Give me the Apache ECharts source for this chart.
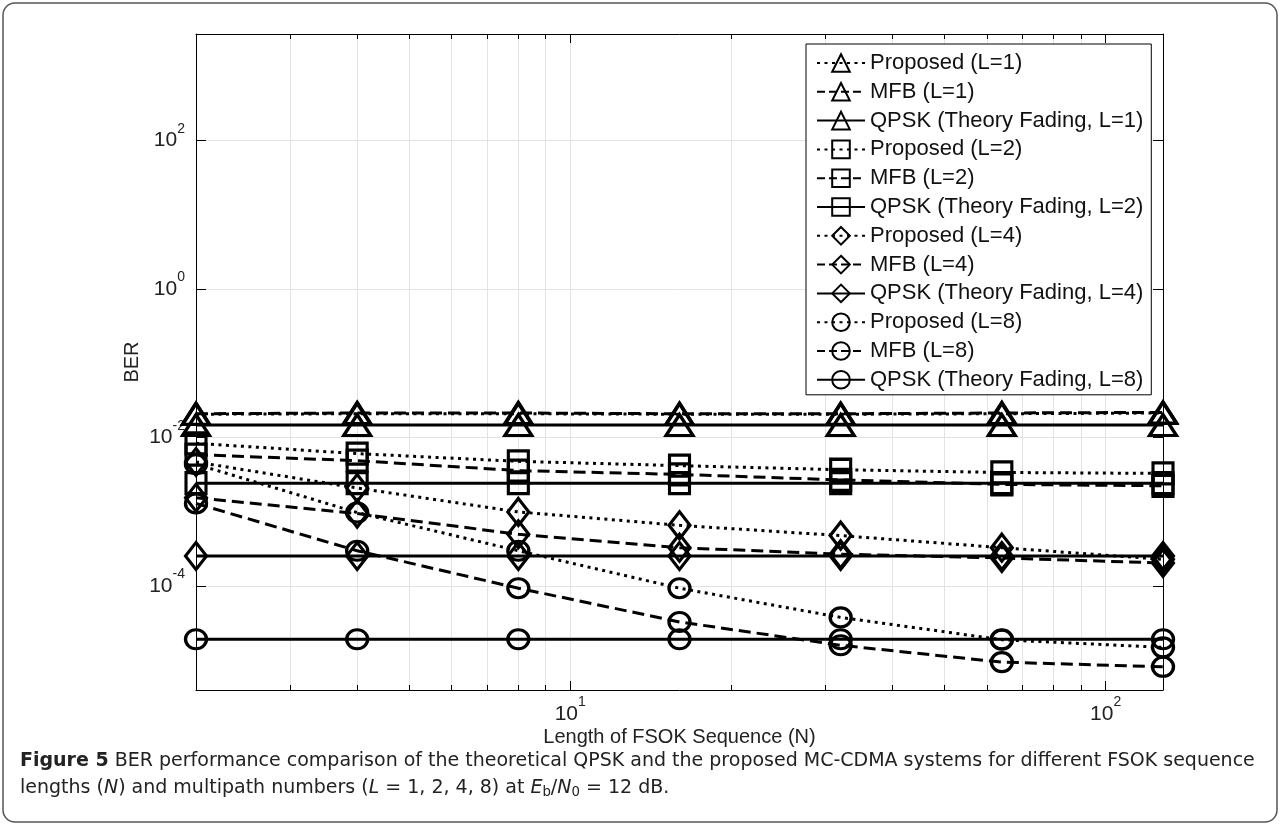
<!DOCTYPE html>
<html><head><meta charset="utf-8">
<script src="https://cdn.jsdelivr.net/npm/echarts@6/dist/echarts.min.js"></script>
<style>html,body{margin:0;padding:0;background:#fff}#c{width:1281px;height:827px}</style>
</head><body><div id="c"></div>
<script>
// ---- data ----
const N = [2, 4, 8, 16, 32, 64, 128];
const proposedL1 = [0.0207, 0.021, 0.021, 0.0207, 0.0207, 0.021, 0.0215];
const mfbL1      = [0.021, 0.0215, 0.0215, 0.021, 0.021, 0.0215, 0.0219];
const qpskL1     = [0.0148, 0.0148, 0.0148, 0.0148, 0.0148, 0.0148, 0.0148];
const proposedL2 = [8.4e-3, 6.1e-3, 4.8e-3, 4.2e-3, 3.7e-3, 3.4e-3, 3.3e-3];
const mfbL2      = [5.9e-3, 4.9e-3, 3.6e-3, 3.2e-3, 2.7e-3, 2.35e-3, 2.25e-3];
const qpskL2     = [2.44e-3, 2.44e-3, 2.44e-3, 2.44e-3, 2.44e-3, 2.44e-3, 2.44e-3];
const proposedL4 = [4.7e-3, 2.1e-3, 1.0e-3, 6.6e-4, 4.8e-4, 3.3e-4, 2.3e-4];
const mfbL4      = [1.55e-3, 9.5e-4, 5.0e-4, 3.3e-4, 2.7e-4, 2.4e-4, 2.05e-4];
const qpskL4     = [2.55e-4, 2.55e-4, 2.55e-4, 2.55e-4, 2.55e-4, 2.55e-4, 2.55e-4];
const proposedL8 = [4.4e-3, 9.8e-4, 3.0e-4, 9.4e-5, 3.8e-5, 1.9e-5, 1.5e-5];
const mfbL8      = [1.3e-3, 3.0e-4, 9.4e-5, 3.3e-5, 1.6e-5, 9.5e-6, 8.2e-6];
const qpskL8     = [1.93e-5, 1.93e-5, 1.93e-5, 1.93e-5, 1.93e-5, 1.93e-5, 1.93e-5];
const seriesNames = [
  'Proposed (L=1)', 'MFB (L=1)', 'QPSK (Theory Fading, L=1)',
  'Proposed (L=2)', 'MFB (L=2)', 'QPSK (Theory Fading, L=2)',
  'Proposed (L=4)', 'MFB (L=4)', 'QPSK (Theory Fading, L=4)',
  'Proposed (L=8)', 'MFB (L=8)', 'QPSK (Theory Fading, L=8)'
];
const seriesData = [proposedL1, mfbL1, qpskL1, proposedL2, mfbL2, qpskL2,
                    proposedL4, mfbL4, qpskL4, proposedL8, mfbL8, qpskL8];
const xMin = 2, xMax = 128;
const yMin = 4.0e-6, yMax = 2730;
const xAxisTitle = 'Length of FSOK Sequence (N)';
const yAxisTitle = 'BER';

// ---- styles ----
const FONT = 'Liberation Sans, Arial, sans-serif';
const CAPFONT = 'DejaVu Sans, Open Sans, sans-serif';
const CAPSIZE = 19;
const lineTypes = [[3, 4.5], 'dashed', 'solid'];
const symbols = ['triangle', 'rect', 'diamond', 'circle'];
const symbolSizes = [[27, 21], [20, 21], [21, 27], [21, 19]];

function powLabel(v) {
  const e = Math.log10(v);
  const r = Math.round(e);
  if (Math.abs(e - r) > 1e-6) return '';
  return '{b|10}{s|' + r + '}';
}
const labelRich = {
  b: { fontSize: 21, fontFamily: FONT, color: '#222' },
  s: { fontSize: 14, fontFamily: FONT, color: '#222', padding: [0, 0, 24, 0] }
};
const axLine = { show: true, onZero: false, lineStyle: { color: '#000', width: 1 } };
const tickStyle = { color: '#000', width: 1 };
const gridColor = '#e3e3e3';

const series = seriesNames.map((name, i) => ({
  name: name,
  type: 'line',
  data: N.map((n, k) => [n, seriesData[i][k]]),
  symbol: symbols[Math.floor(i / 3)],
  symbolSize: symbolSizes[Math.floor(i / 3)],
  showAllSymbol: true,
  lineStyle: { color: '#000', width: 3, type: lineTypes[i % 3] },
  itemStyle: { color: 'rgba(0,0,0,0)', borderColor: '#000', borderWidth: 3.2 },
  emphasis: { disabled: true },
  z: 3
}));

const capRich = {
  b: { fontSize: CAPSIZE, fontFamily: CAPFONT, fontWeight: 'bold', fill: '#222' },
  n: { fontSize: CAPSIZE, fontFamily: CAPFONT, fill: '#222' },
  i: { fontSize: CAPSIZE, fontFamily: CAPFONT, fontStyle: 'italic', fill: '#222' },
  sub: { fontSize: CAPSIZE * 0.7, fontFamily: CAPFONT, fill: '#222', padding: [8, 0, 0, 0] }
};

const option = {
  animation: false,
  backgroundColor: '#fff',
  grid: { left: 196, right: 118, top: 34, bottom: 137, containLabel: false },
  xAxis: [{
    type: 'log', logBase: 10, min: xMin, max: xMax, position: 'bottom',
    axisLine: axLine,
    axisTick: { show: true, inside: true, length: 9, lineStyle: tickStyle },
    minorTick: { show: true, splitNumber: 9, length: 5, lineStyle: tickStyle },
    splitLine: { show: true, lineStyle: { color: gridColor, width: 1 } },
    minorSplitLine: { show: true, lineStyle: { color: gridColor, width: 1 } },
    axisLabel: { formatter: powLabel, rich: labelRich, margin: 5, showMinLabel: false, showMaxLabel: false },
    name: xAxisTitle, nameLocation: 'middle', nameGap: 37, nameMoveOverlap: false,
    nameTextStyle: { fontSize: 20, color: '#222', fontFamily: FONT }
  }, {
    type: 'log', logBase: 10, min: xMin, max: xMax, position: 'top',
    axisLine: axLine,
    axisTick: { show: true, inside: true, length: 9, lineStyle: tickStyle },
    minorTick: { show: true, splitNumber: 9, length: 5, lineStyle: tickStyle },
    splitLine: { show: false }, minorSplitLine: { show: false },
    axisLabel: { show: false }
  }],
  yAxis: [{
    type: 'log', logBase: 100, min: yMin, max: yMax, position: 'left',
    axisLine: axLine,
    axisTick: { show: true, inside: true, length: 10, lineStyle: tickStyle },
    splitLine: { show: true, lineStyle: { color: gridColor, width: 1 } },
    axisLabel: { formatter: powLabel, rich: labelRich, margin: 11, showMinLabel: false, showMaxLabel: false },
    name: yAxisTitle, nameLocation: 'middle', nameGap: 54, nameMoveOverlap: false,
    nameTextStyle: { fontSize: 20, color: '#222', fontFamily: FONT }
  }, {
    type: 'log', logBase: 100, min: yMin, max: yMax, position: 'right',
    axisLine: axLine,
    axisTick: { show: true, inside: true, length: 10, lineStyle: tickStyle },
    splitLine: { show: false },
    axisLabel: { show: false }
  }],
  legend: {
    data: seriesNames,
    orient: 'vertical', left: 806, top: 44,
    padding: [8, 8, 4, 10],
    itemWidth: 48, itemHeight: 22, itemGap: 6.8,
    backgroundColor: '#fff', borderColor: '#000', borderWidth: 1, borderRadius: 0,
    selectedMode: false,
    textStyle: { fontSize: 22, fontFamily: FONT, color: '#111' }
  },
  series: series,
  graphic: [
    { type: 'rect', shape: { x: 3, y: 3, width: 1274, height: 819, r: 12 },
      style: { fill: 'none', stroke: '#555', lineWidth: 1.5 }, z: -10, silent: true },
    { type: 'text', left: 20, top: 752, silent: true,
      style: {
        text: '{b|Figure 5}{n| BER performance comparison of the theoretical QPSK and the proposed MC-CDMA systems for different FSOK sequence}',
        rich: capRich
      } },
    { type: 'text', left: 20, top: 779, silent: true,
      style: {
        text: '{n|lengths (}{i|N}{n|) and multipath numbers (}{i|L}{n| = 1, 2, 4, 8) at }{i|E}{sub|b}{n|/}{i|N}{sub|0}{n| = 12 dB.}',
        rich: capRich
      } }
  ]
};

const chart = echarts.init(document.getElementById('c'), null, { renderer: 'canvas' });
chart.setOption(option);
</script>
</body></html>
